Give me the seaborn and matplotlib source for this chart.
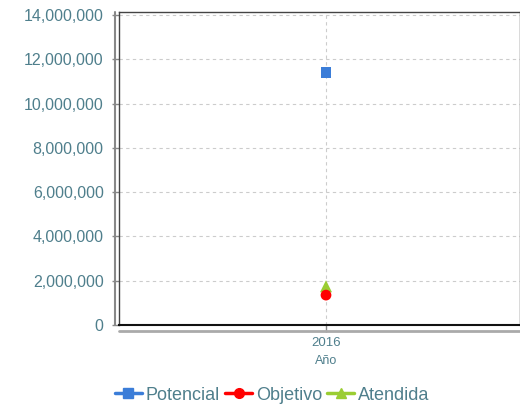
import matplotlib
matplotlib.use("Agg")
import matplotlib.pyplot as plt
import seaborn as sns
import pandas as pd
from matplotlib.lines import Line2D
from matplotlib.ticker import FuncFormatter

years = ["2016"]
series = ["Potencial", "Objetivo", "Atendida"]
potencial = [11400000]
objetivo = [1350000]
atendida = [1750000]
colors = {"Potencial": "#3b7dd8", "Objetivo": "#ff0000", "Atendida": "#9acd32"}
markers = {"Potencial": "s", "Objetivo": "o", "Atendida": "^"}

df = pd.DataFrame({
    "Año": years * 3,
    "serie": ["Potencial"] * len(years) + ["Objetivo"] * len(years) + ["Atendida"] * len(years),
    "valor": potencial + objetivo + atendida,
})

sns.set_theme(style="white")
plt.rcParams["font.family"] = ["Liberation Sans", "DejaVu Sans"]

fig = plt.figure(figsize=(5.2, 4.04), dpi=100)
W, H = 520, 404
ax = fig.add_axes([119 / W, (H - 325) / H, (W - 119) / W, (325 - 12) / H])

tick_color = "#4f7f8c"
order_draw = ["Potencial", "Atendida", "Objetivo"]
sizes = {"Potencial": 60, "Objetivo": 60, "Atendida": 75}
for s in order_draw:
    sub = df[df["serie"] == s]
    sns.scatterplot(data=sub, x="Año", y="valor", ax=ax, color=colors[s],
                    marker=markers[s], s=sizes[s],
                    edgecolor="none", legend=False, zorder=5)

ax.set_ylim(0, 14000000 * 313 / 310)
ax.set_xlim(-0.5, 0.5 * 194 / 207)
ax.set_yticks(range(0, 14000001, 2000000))
ax.yaxis.set_major_formatter(FuncFormatter(lambda v, p: f"{int(v):,}"))
ax.grid(True, axis="both", linestyle=(0, (3, 3)), color="#cccccc", linewidth=0.8)
ax.set_axisbelow(True)

for sp in ["left", "top", "bottom", "right"]:
    ax.spines[sp].set_visible(True)
    ax.spines[sp].set_color("#444444")
    ax.spines[sp].set_linewidth(1.0)
ax.spines["bottom"].set_color("#111111")
ax.spines["bottom"].set_linewidth(1.5)

# offset gray axis lines
ax.add_line(Line2D([-4 / 401, -4 / 401], [0, 1], transform=ax.transAxes,
                   color="#888888", linewidth=1.5, clip_on=False))
ax.add_line(Line2D([0, 1], [-6 / 313, -6 / 313], transform=ax.transAxes,
                   color="#aaaaaa", linewidth=2, clip_on=False))

ax.tick_params(axis="y", left=True, length=5, width=1, color="#888888",
               labelsize=11.5, labelcolor=tick_color, pad=6)
ax.tick_params(axis="x", bottom=True, length=5, width=1, color="#888888",
               labelsize=9.5, labelcolor=tick_color, pad=4)
ax.set_ylabel("")
ax.set_xlabel("Año", fontsize=9, color=tick_color)
ax.xaxis.set_label_coords((326 - 119) / 401, -(355 - 325) / 313)

handles = [Line2D([0], [0], color=colors[s], marker=markers[s], markersize=7,
                  linewidth=2.5, label=s) for s in series]
leg = fig.legend(handles=handles, loc="center", bbox_to_anchor=(272 / W, 1 - 395 / H),
                 ncol=3, frameon=False, fontsize=13, handlelength=1.5,
                 handletextpad=0.2, columnspacing=0.3)
for t in leg.get_texts():
    t.set_color(tick_color)

fig.savefig("out.png", dpi=100)
